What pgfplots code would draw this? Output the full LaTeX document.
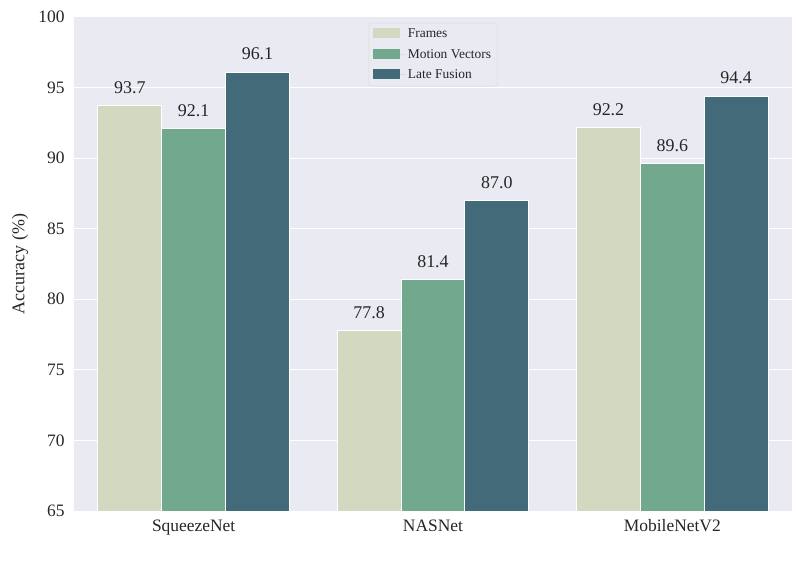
\documentclass[border=0pt]{standalone}
\usepackage{pgfplots}
\pgfplotsset{compat=1.18}
\usepackage{fontspec}
\setmainfont{Liberation Serif}
\definecolor{bg}{HTML}{EAEAF2}
\definecolor{cF}{HTML}{D3D9C1}
\definecolor{cM}{HTML}{72A98E}
\definecolor{cL}{HTML}{426A79}
\definecolor{txt}{HTML}{262626}
\begin{document}
\begin{tikzpicture}
\useasboundingbox (-74bp,-50bp) rectangle (736bp,511bp);
\begin{axis}[
  at={(0,0)}, anchor=south west,
  scale only axis, width=718bp, height=494bp,
  xmin=-0.5, xmax=2.5, ymin=65, ymax=100,
  axis background/.style={fill=bg},
  axis line style={draw=none},
  ytick={65,70,...,100},
  xtick={0,1,2},
  xticklabels={SqueezeNet,NASNet,MobileNetV2},
  major tick length=0pt,
  ymajorgrids,
  grid style={white, line width=1bp},
  ybar=0pt, bar width=0.2667,
  /pgf/number format/assume math mode=true,
  ticklabel style={font=\fontsize{17.5}{20}\selectfont, text=txt},
  yticklabel style={xshift=-6bp},
  xticklabel style={yshift=-5bp},
  ylabel={Accuracy (\%)},
  ylabel style={at={(axis description cs:-0.075,0.5)}, anchor=center, font=\fontsize{18}{20}\selectfont, text=txt},
  every axis plot/.append style={draw=white, line width=1bp},
  nodes near coords,
  nodes near coords style={font=\fontsize{18}{20}\selectfont, text=txt, anchor=south, yshift=8bp,
    /pgf/number format/.cd, fixed, precision=1, fixed zerofill, assume math mode=true},
  legend style={at={(0.5,0.988)}, anchor=north, draw=black!15, fill=bg, rounded corners=2.5bp,
    font=\fontsize{13.5}{16}\selectfont, text=txt, row sep=6bp, inner xsep=4bp, inner ysep=4bp,
    cells={anchor=west}},
  legend image code/.code={\fill[#1, draw=none, sharp corners] (0bp,-4bp) rectangle (27bp,6bp); \path[draw=none] (0bp,0bp) -- (33bp,0bp);},
]
\addplot[fill=cF] coordinates {(0,93.7) (1,77.8) (2,92.2)};
\addplot[fill=cM] coordinates {(0,92.1) (1,81.4) (2,89.6)};
\addplot[fill=cL] coordinates {(0,96.1) (1,87.0) (2,94.4)};
\legend{Frames, Motion Vectors, Late Fusion}
\end{axis}
\end{tikzpicture}
\end{document}
